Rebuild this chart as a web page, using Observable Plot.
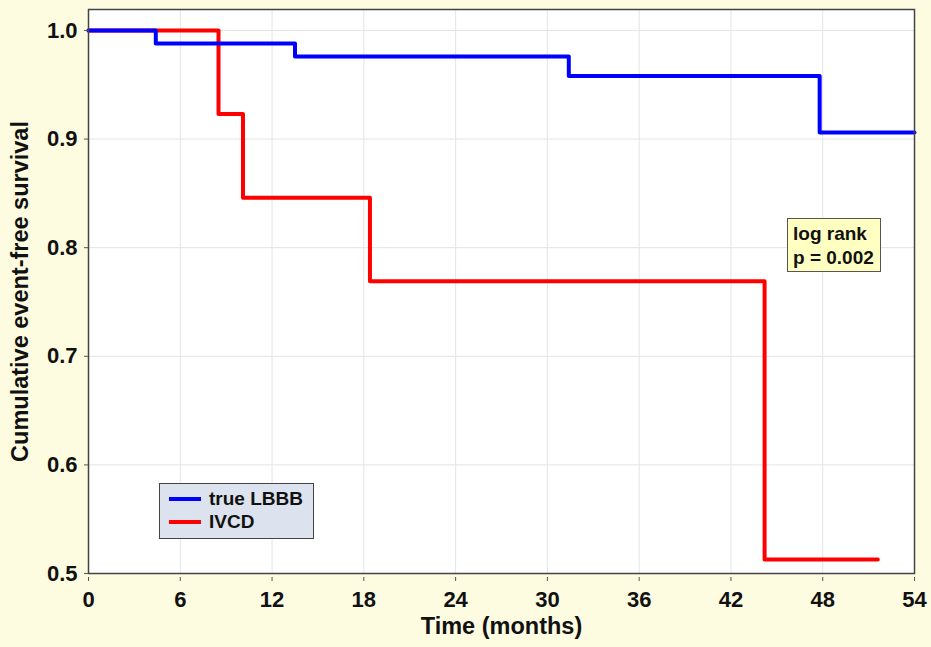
<!DOCTYPE html>
<html>
<head>
<meta charset="utf-8">
<script src="https://cdn.jsdelivr.net/npm/d3@7"></script>
<script src="https://cdn.jsdelivr.net/npm/@observablehq/plot@0.6"></script>
<style>
  html, body { margin: 0; padding: 0; background: #fdfbe0; }
  #wrap { position: relative; width: 931px; height: 647px; font-family: "Liberation Sans", Arial, sans-serif; }
  .box { position: absolute; box-sizing: border-box; font-weight: bold; color: #111; }
  #legend { left: 159px; top: 483px; width: 155px; height: 56px; background: #dce3ee; border: 1.5px solid #444; font-size: 19px; }
  .row { position: absolute; left: 9px; display: flex; align-items: center; height: 24px; }
  .sw { width: 32px; height: 4px; margin-right: 8px; }
  #note { left: 787px; top: 218px; width: 94px; height: 54px; background: #ffffc2; border: 1.5px solid #555; font-size: 19px; line-height: 24px; padding: 3px 0 0 5px; }
</style>
</head>
<body>
<div id="wrap"></div>
<script>
// Kaplan-Meier step data (time in months, cumulative event-free survival)
const lbbbTime = [0, 4.4, 13.5, 31.4, 47.8, 54];
const lbbbSurv = [1.0, 0.988, 0.976, 0.958, 0.906, 0.906];
const ivcdTime = [0, 8.5, 10.1, 18.4, 44.2, 51.6];
const ivcdSurv = [1.0, 0.923, 0.846, 0.769, 0.513, 0.513];
const xTicks = [0, 6, 12, 18, 24, 30, 36, 42, 48, 54];
const yTicks = [0.5, 0.6, 0.7, 0.8, 0.9, 1.0];
const seriesNames = ["true LBBB", "IVCD"];
const seriesColors = ["#0000ff", "#ff0000"];
const xLabel = "Time (months)";
const yLabel = "Cumulative event-free survival";
const noteLines = ["log rank", "p = 0.002"];

const lbbb = lbbbTime.map((t, i) => ({t, s: lbbbSurv[i]}));
const ivcd = ivcdTime.map((t, i) => ({t, s: ivcdSurv[i]}));

const chart = Plot.plot({
  width: 931,
  height: 647,
  marginLeft: 88,
  marginRight: 17,
  marginTop: 9,
  marginBottom: 74,
  style: {background: "transparent", fontFamily: "'Liberation Sans', Arial, sans-serif", fontWeight: "bold", fontSize: "22px", color: "#111"},
  x: {domain: [0, 54]},
  y: {domain: [0.5, 1.0193]},
  marks: [
    Plot.frame({fill: "white"}),
    Plot.gridX(xTicks, {stroke: "#e4e4e4", strokeOpacity: 1}),
    Plot.gridY(yTicks, {stroke: "#e4e4e4", strokeOpacity: 1}),
    Plot.line(ivcd, {x: "t", y: "s", curve: "step-after", stroke: seriesColors[1], strokeWidth: 4}),
    Plot.line(lbbb, {x: "t", y: "s", curve: "step-after", stroke: seriesColors[0], strokeWidth: 4}),
    Plot.frame({stroke: "#444", strokeWidth: 1.5}),
    Plot.axisX(xTicks, {tickSize: 4, tickPadding: 10, dy: 4, label: null, fontSize: 22, fontWeight: "bold", stroke: "#555"}),
    Plot.axisY(yTicks, {tickSize: 4, tickPadding: 7, label: null, tickFormat: d3.format(".1f"), fontSize: 22, fontWeight: "bold", stroke: "#555"}),
    Plot.text([xLabel], {frameAnchor: "bottom", dy: 60, text: d => d, fontSize: 23.5, fontWeight: "bold", fill: "#111"}),
    Plot.text([yLabel], {frameAnchor: "left", dx: -68, rotate: -90, textAnchor: "middle", text: d => d, fontSize: 23.5, fontWeight: "bold", fill: "#111"})
  ]
});

const wrap = document.getElementById("wrap");
wrap.appendChild(chart);
chart.style.position = "absolute";
chart.style.left = "0";
chart.style.top = "0";

const legend = document.createElement("div");
legend.className = "box";
legend.id = "legend";
seriesNames.forEach((name, i) => {
  const row = document.createElement("div");
  row.className = "row";
  row.style.top = (3 + i * 23) + "px";
  const sw = document.createElement("div");
  sw.className = "sw";
  sw.style.background = seriesColors[i];
  const lab = document.createElement("span");
  lab.textContent = name;
  row.appendChild(sw);
  row.appendChild(lab);
  legend.appendChild(row);
});
wrap.appendChild(legend);

const note = document.createElement("div");
note.className = "box";
note.id = "note";
noteLines.forEach(l => { const d = document.createElement("div"); d.textContent = l; note.appendChild(d); });
wrap.appendChild(note);
</script>
</body>
</html>
